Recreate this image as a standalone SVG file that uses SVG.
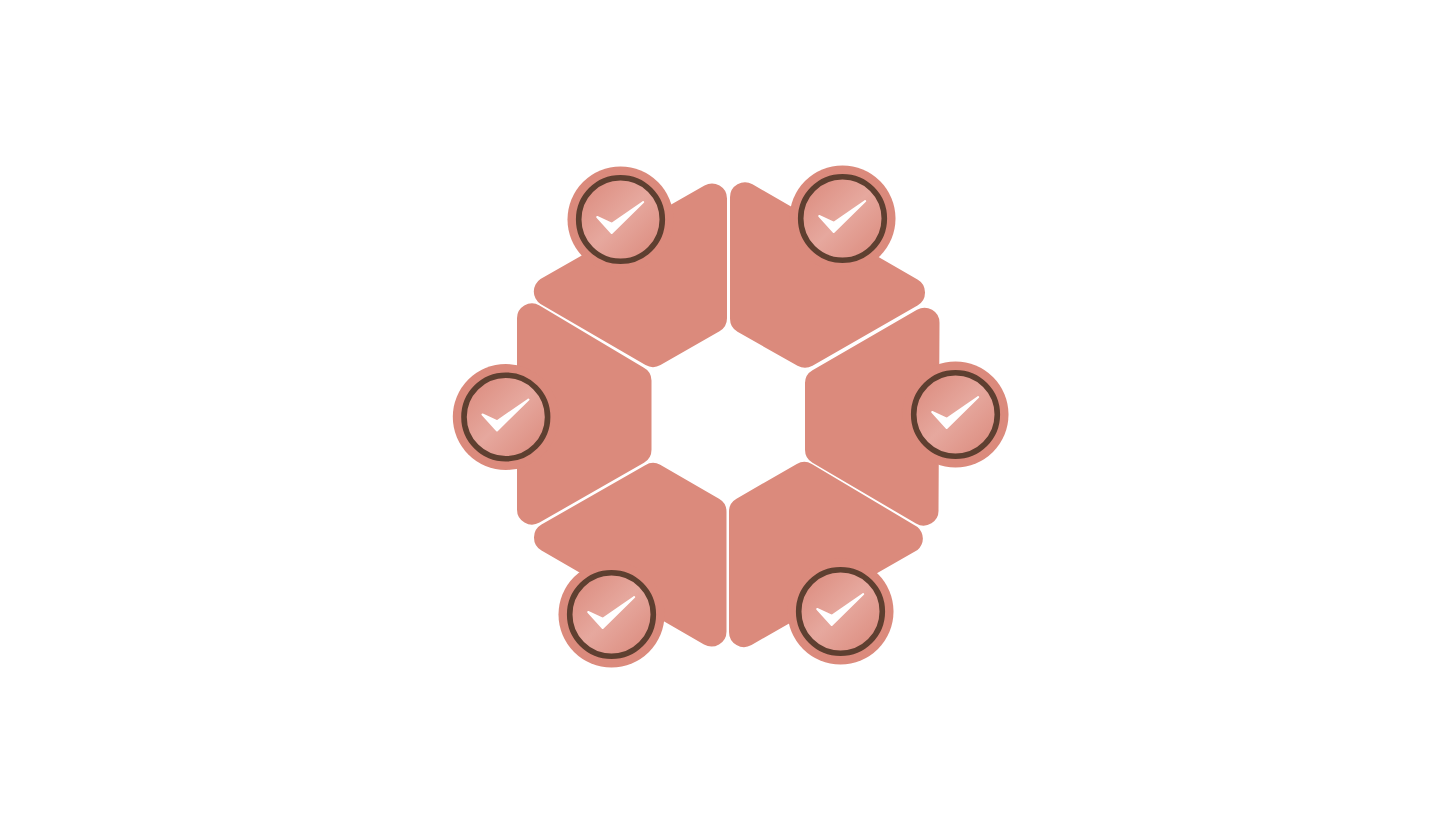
<svg xmlns="http://www.w3.org/2000/svg" width="1440" height="832" viewBox="0 0 1440 832">
<style>
.seg{fill:#DB8A7C}
.halo{fill:#DB8A7C}
.ring{fill:url(#g);stroke:#5E3F30;stroke-width:5.6}
.tick{fill:#fff;stroke:#fff;stroke-width:2;stroke-linejoin:round}
</style>
<defs>
<linearGradient id="g" x1="0.12" y1="0.12" x2="0.88" y2="0.88">
<stop offset="0" stop-color="#DD8F82"/>
<stop offset="0.5" stop-color="#E6A89E"/>
<stop offset="1" stop-color="#DD8F82"/>
</linearGradient>
<g id="badge">
<circle class="halo" r="53"/>
<circle class="ring" r="41.8"/>
<path class="tick" d="M-23.3 -2.5 L-8.8 4.2 L22.7 -17.5 L-8.8 13.5 Z"/>
</g>
</defs>
<rect width="1440" height="832" fill="#fff"/>
<g id="connectors"/>
<g id="node-top-left">
<path class="seg" d="M727 198.6 L727 318.3 A15 15 0 0 1 719.5 331.3 L660.5 365.1 A15 15 0 0 1 645.5 365.1 L540.5 304 A15 15 0 0 1 540.5 279 L704.5 185.6 A15 15 0 0 1 727 198.6 Z"/>
<use href="#badge" x="620.5" y="219.5"/>
</g>
<g id="node-top-right">
<path class="seg" d="M752.5 184.3 L917.5 279.5 A15 15 0 0 1 917.5 305.5 L812.5 365.7 A15 15 0 0 1 797.5 365.7 L737.5 331.8 A15 15 0 0 1 730 318.8 L730 197.3 A15 15 0 0 1 752.5 184.3 Z"/>
<use href="#badge" x="842.5" y="218.5"/>
</g>
<g id="node-left">
<path class="seg" d="M539.5 305.5 L643.5 367.5 A15 15 0 0 1 651.5 380.5 L651.5 449.8 A15 15 0 0 1 644 462.8 L539.5 522.5 A15 15 0 0 1 517 509.5 L517 319 A15 15 0 0 1 539.5 305.5 Z"/>
<use href="#badge" x="505.8" y="417"/>
</g>
<g id="node-right">
<path class="seg" d="M939.5 323 L938.5 509.5 A15 15 0 0 1 916 523.5 L812.5 462.8 A15 15 0 0 1 805 449.8 L805 383 A15 15 0 0 1 812.5 370.3 L917 309.8 A15 15 0 0 1 939.5 323 Z"/>
<use href="#badge" x="955.5" y="414.5"/>
</g>
<g id="node-bottom-left">
<path class="seg" d="M541.5 524.5 L645.2 465.2 A15 15 0 0 1 660.2 464.7 L719 498.7 A15 15 0 0 1 726.5 511.7 L726.5 631.4 A15 15 0 0 1 704 644.4 L541.5 550.5 A15 15 0 0 1 541.5 524.5 Z"/>
<use href="#badge" x="611.5" y="614.5"/>
</g>
<g id="node-bottom-right">
<path class="seg" d="M736.5 498.7 L796.8 463.9 A15 15 0 0 1 811.8 463.9 L917.5 527 A15 15 0 0 1 917.5 550 L751.5 645 A15 15 0 0 1 729 632 L729 511.7 A15 15 0 0 1 736.5 498.7 Z"/>
<use href="#badge" x="840.5" y="611.5"/>
</g>
</svg>
